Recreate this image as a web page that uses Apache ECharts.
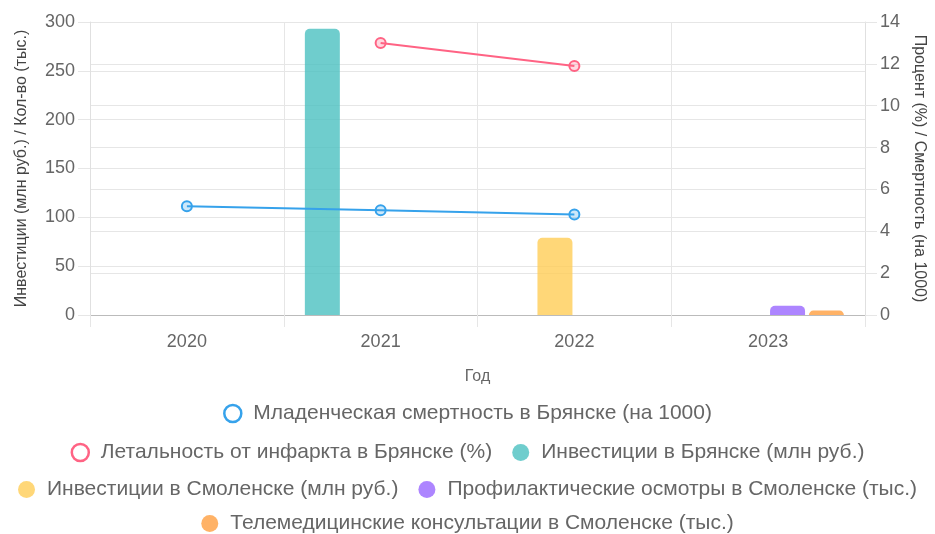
<!DOCTYPE html>
<html><head><meta charset="utf-8">
<script src="https://cdn.jsdelivr.net/npm/echarts@6/dist/echarts.min.js"></script>
<style>html,body{margin:0;padding:0;background:#fff}#c{width:935px;height:534px}</style>
</head><body><div id="c"></div>
<script>
var categories = ['2020', '2021', '2022', '2023'];
var infantMortality = [5.2, 5.0, 4.8, null];
var heartLethality = [null, 13.0, 11.9, null];
var investBryansk = [null, 293, null, null];
var investSmolensk = [null, null, 79, null];
var checkupsSmolensk = [null, null, null, 9.5];
var telemedSmolensk = [null, null, null, 4.5];
var leftTicks = {min: 0, max: 300, interval: 50};
var rightTicks = {min: 0, max: 14, interval: 2};

var names = [
  'Младенческая смертность в Брянске (на 1000)',
  'Летальность от инфаркта в Брянске (%)',
  'Инвестиции в Брянске (млн руб.)',
  'Инвестиции в Смоленске (млн руб.)',
  'Профилактические осмотры в Смоленске (тыс.)',
  'Телемедицинские консультации в Смоленске (тыс.)'
];
var colors = ['#36a2eb', '#ff6384', '#4bc0c0', '#ffcd56', '#9966ff', '#ff9f40'];
var fillA = ['rgba(54,162,235,0.25)', 'rgba(255,99,132,0.25)', 'rgba(75,192,192,0.8)', 'rgba(255,205,86,0.8)', 'rgba(153,102,255,0.8)', 'rgba(255,159,64,0.8)'];
var FONT = 'Liberation Sans';
var txt = {color: '#666', fontSize: 18, fontFamily: FONT};

function legItem(i) {
  var isLine = i < 2;
  return {name: names[i], icon: 'circle',
    itemStyle: isLine ? {color: '#fff', borderColor: colors[i], borderWidth: 2.5} : {color: fillA[i], borderWidth: 0}};
}
function leg(idx, top) {
  return {data: idx.map(legItem), top: top, left: 'center', itemWidth: 17, itemHeight: 17, itemGap: 20,
    textStyle: {color: '#666', fontSize: 21, fontFamily: FONT, padding: [0, 0, 0, 7]}, selectedMode: false};
}

function lineSeries(i, data) {
  return {name: names[i], type: 'line', yAxisIndex: 1, data: data, connectNulls: false,
    symbol: 'circle', symbolSize: 10, lineStyle: {color: colors[i], width: 2},
    itemStyle: {color: fillA[i], borderColor: colors[i], borderWidth: 2}, z: 5};
}
function barSeries(i, data) {
  return {name: names[i], type: 'bar', yAxisIndex: 0, data: data, barWidth: 35, barGap: '11%',
    itemStyle: {color: fillA[i], borderRadius: [5, 5, 0, 0]}};
}

var chart = echarts.init(document.getElementById('c'), null, {renderer: 'canvas'});
chart.setOption({
  animation: false,
  grid: {left: 90, right: 70, top: 22, bottom: 219},
  legend: [leg([0], 398), leg([1, 2], 437), leg([3, 4], 474), leg([5], 508)],
  xAxis: {type: 'category', data: categories, boundaryGap: true,
    name: 'Год', nameLocation: 'middle', nameGap: 54, nameTextStyle: {color: '#666', fontSize: 16, fontFamily: FONT},
    axisLine: {lineStyle: {color: '#bbb'}},
    axisTick: {show: true, length: 12, lineStyle: {color: '#e6e6e6'}},
    axisLabel: Object.assign({margin: 18}, txt),
    splitLine: {show: true, lineStyle: {color: '#e6e6e6'}}},
  yAxis: [
    {type: 'value', position: 'left', min: leftTicks.min, max: leftTicks.max, interval: leftTicks.interval,
      name: 'Инвестиции (млн руб.) / Кол-во (тыс.)', nameLocation: 'middle', nameGap: 60, nameRotate: 90,
      nameTextStyle: {color: '#444', fontSize: 16, fontFamily: FONT},
      axisLine: {show: true, lineStyle: {color: '#e0e0e0'}},
      axisTick: {show: true, length: 12, lineStyle: {color: '#e6e6e6'}},
      axisLabel: Object.assign({margin: 15}, txt),
      splitLine: {lineStyle: {color: '#e6e6e6'}}},
    {type: 'value', position: 'right', min: rightTicks.min, max: rightTicks.max, interval: rightTicks.interval,
      name: 'Процент (%) / Смертность (на 1000)', nameLocation: 'middle', nameGap: 42, nameRotate: -90,
      nameTextStyle: {color: '#444', fontSize: 16, fontFamily: FONT},
      axisLine: {show: true, lineStyle: {color: '#e0e0e0'}},
      axisTick: {show: true, length: 12, lineStyle: {color: '#e6e6e6'}},
      axisLabel: Object.assign({margin: 15}, txt),
      splitLine: {lineStyle: {color: '#e6e6e6'}}}
  ],
  series: [
    lineSeries(0, infantMortality),
    lineSeries(1, heartLethality),
    barSeries(2, investBryansk),
    barSeries(3, investSmolensk),
    barSeries(4, checkupsSmolensk),
    barSeries(5, telemedSmolensk)
  ]
});
</script></body></html>
